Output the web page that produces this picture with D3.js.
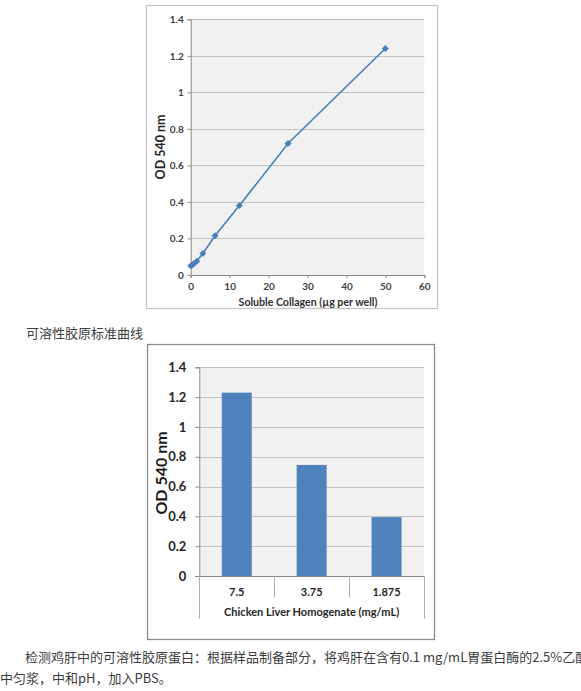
<!DOCTYPE html>
<html>
<head>
<meta charset="utf-8">
<script src="https://cdn.jsdelivr.net/npm/d3@7"></script>
<style>
  body { margin: 0; background: #fff; }
  svg { display: block; }
</style>
</head>
<body>
<script>
"use strict";
// standard curve (upper chart)
var collagenUg = [0, 0.39, 0.78, 1.56, 3.125, 6.25, 12.5, 25, 50];
var collagenOd = [0.05, 0.055, 0.062, 0.075, 0.118, 0.215, 0.38, 0.72, 1.24];
var collagenTicks = [0, 10, 20, 30, 40, 50, 60];
// chicken liver samples (lower chart)
var liverConc = ["7.5", "3.75", "1.875"];
var liverOd = [1.23, 0.745, 0.395];
var odTicks = [0, 0.2, 0.4, 0.6, 0.8, 1, 1.2, 1.4];

var caption = "可溶性胶原标准曲线";
var paraLine1 = "检测鸡肝中的可溶性胶原蛋白：根据样品制备部分，将鸡肝在含有0.1 mg/mL胃蛋白酶的2.5%乙酸";
var paraLine2 = "中匀浆，中和pH，加入PBS。";

var W = 581, H = 691;
var chartFont = "Lato, 'Liberation Sans', sans-serif";
var cjkFont = "'Noto Sans CJK SC', sans-serif";
var fmt = function (d) { return String(Math.round(d * 10) / 10); };

var svg = d3.select("body").append("svg")
  .attr("width", W)
  .attr("height", H);

// ---------- upper chart ----------
(function () {
  var g = svg.append("g");
  var x = d3.scaleLinear().domain([0, 60]).range([190.7, 424.3]);
  var y = d3.scaleLinear().domain([0, 1.4]).range([275, 19.3]);

  g.append("rect")
    .attr("x", 146.5).attr("y", 5.5)
    .attr("width", 291).attr("height", 303)
    .attr("fill", "#fff")
    .attr("stroke", "#c4c4c4")
    .attr("stroke-width", 1.2);

  g.append("rect")
    .attr("x", x(0)).attr("y", y(1.4))
    .attr("width", x(60) - x(0)).attr("height", y(0) - y(1.4))
    .attr("fill", "#f1f1f1");

  g.selectAll("line.grid").data(odTicks.slice(1)).join("line")
    .attr("class", "grid")
    .attr("x1", x(0)).attr("x2", x(60))
    .attr("y1", function (d) { return Math.round(y(d)) + 0.5; })
    .attr("y2", function (d) { return Math.round(y(d)) + 0.5; })
    .attr("stroke", "#c3c3c3");

  var ya = g.append("g")
    .attr("transform", "translate(" + x(0) + ",0)")
    .call(d3.axisLeft(y).tickValues(odTicks).tickFormat(fmt).tickSize(3).tickPadding(4));
  var xa = g.append("g")
    .attr("transform", "translate(0," + y(0) + ")")
    .call(d3.axisBottom(x).tickValues(collagenTicks).tickSize(3).tickPadding(5));
  [ya, xa].forEach(function (a) {
    a.select(".domain").attr("stroke", "#8a8a8a");
    a.selectAll(".tick line").attr("stroke", "#8a8a8a");
    a.selectAll(".tick text")
      .attr("fill", "#404040")
      .style("font-family", chartFont)
      .style("font-size", "10px")
      .style("font-weight", "bold");
  });

  var pts = collagenUg.map(function (d, i) { return [d, collagenOd[i]]; });
  g.append("path")
    .datum(pts)
    .attr("fill", "none")
    .attr("stroke", "#4a7ebb")
    .attr("stroke-width", 1.6)
    .attr("d", d3.line()
      .x(function (d) { return x(d[0]); })
      .y(function (d) { return y(d[1]); }));

  // diamond markers: squares turned 45 degrees
  g.selectAll("path.mark").data(pts).join("path")
    .attr("class", "mark")
    .attr("d", d3.symbol().type(d3.symbolSquare).size(24))
    .attr("transform", function (d) { return "translate(" + x(d[0]) + "," + y(d[1]) + ") rotate(45)"; })
    .attr("fill", "#4a7ebb");

  g.append("text")
    .attr("transform", "translate(161,147) rotate(-90)")
    .attr("text-anchor", "middle")
    .attr("dy", "0.35em")
    .attr("fill", "#222")
    .style("font-family", chartFont)
    .style("font-size", "12.5px")
    .style("font-weight", "bold")
    .text("OD 540 nm");

  g.append("text")
    .attr("x", 308).attr("y", 302)
    .attr("text-anchor", "middle")
    .attr("dy", "0.35em")
    .attr("fill", "#303030")
    .style("font-family", chartFont)
    .style("font-size", "10.6px")
    .style("font-weight", "bold")
    .text("Soluble Collagen (µg per well)");
}());

// ---------- caption ----------
svg.append("text")
  .attr("x", 26).attr("y", 333)
  .attr("dy", "0.35em")
  .attr("fill", "#3c3c3c")
  .style("font-family", cjkFont)
  .style("font-size", "13px")
  .text(caption);

// ---------- lower chart ----------
(function () {
  var g = svg.append("g");
  var x = d3.scaleBand().domain(liverConc).range([199.3, 424]).paddingInner(0.6).paddingOuter(0.3);
  var y = d3.scaleLinear().domain([0, 1.4]).range([576, 367.3]);
  var x0 = x.range()[0], x1 = x.range()[1], step = x.step();

  g.append("rect")
    .attr("x", 147.5).attr("y", 344.5)
    .attr("width", 287).attr("height", 295)
    .attr("fill", "#fff")
    .attr("stroke", "#8c8c8c")
    .attr("stroke-width", 1.3);

  g.append("rect")
    .attr("x", x0).attr("y", y(1.4))
    .attr("width", x1 - x0).attr("height", y(0) - y(1.4))
    .attr("fill", "#f1f1f1");

  g.selectAll("line.grid").data(odTicks.slice(1)).join("line")
    .attr("class", "grid")
    .attr("x1", x0).attr("x2", x1)
    .attr("y1", function (d) { return Math.round(y(d)) + 0.5; })
    .attr("y2", function (d) { return Math.round(y(d)) + 0.5; })
    .attr("stroke", "#c3c3c3");

  g.selectAll("rect.bar").data(liverOd).join("rect")
    .attr("class", "bar")
    .attr("x", function (d, i) { return x(liverConc[i]); })
    .attr("y", function (d) { return y(d); })
    .attr("width", x.bandwidth())
    .attr("height", function (d) { return y(0) - y(d); })
    .attr("fill", "#4f81bd");

  var ya = g.append("g")
    .attr("transform", "translate(" + x0 + ",0)")
    .call(d3.axisLeft(y).tickValues(odTicks).tickFormat(fmt).tickSize(4).tickPadding(9));
  ya.select(".domain").attr("stroke", "#8a8a8a");
  ya.selectAll(".tick line").attr("stroke", "#8a8a8a");
  ya.selectAll(".tick text")
    .attr("fill", "#262626")
    .style("font-family", chartFont)
    .style("font-size", "13px")
    .style("font-weight", "bold");

  // category axis with two levels
  g.append("line")
    .attr("x1", x0).attr("x2", x1)
    .attr("y1", y(0) + 0.5).attr("y2", y(0) + 0.5)
    .attr("stroke", "#8a8a8a");
  d3.range(liverConc.length + 1).forEach(function (i) {
    var edge = i === 0 || i === liverConc.length;
    var xx = Math.round(x0 + i * step) + 0.5;
    g.append("line")
      .attr("x1", xx).attr("x2", xx)
      .attr("y1", y(0)).attr("y2", edge ? 619 : 597)
      .attr("stroke", "#b0b0b0");
  });
  g.selectAll("text.cat").data(liverConc).join("text")
    .attr("class", "cat")
    .attr("x", function (d) { return x(d) + x.bandwidth() / 2; })
    .attr("y", 592)
    .attr("dy", "0.35em")
    .attr("text-anchor", "middle")
    .attr("fill", "#262626")
    .style("font-family", chartFont)
    .style("font-size", "11px")
    .style("font-weight", "bold")
    .text(function (d) { return d; });

  g.append("text")
    .attr("x", (x0 + x1) / 2).attr("y", 612)
    .attr("dy", "0.35em")
    .attr("text-anchor", "middle")
    .attr("fill", "#262626")
    .style("font-family", chartFont)
    .style("font-size", "11px")
    .style("font-weight", "bold")
    .text("Chicken Liver Homogenate (mg/mL)");

  g.append("text")
    .attr("transform", "translate(161,473) rotate(-90)")
    .attr("text-anchor", "middle")
    .attr("dy", "0.35em")
    .attr("fill", "#1a1a1a")
    .style("font-family", chartFont)
    .style("font-size", "16px")
    .style("font-weight", "bold")
    .text("OD 540 nm");
}());

// ---------- paragraph (first line runs past the right edge, as in the source page) ----------
svg.append("text")
  .attr("x", 25).attr("y", 657)
  .attr("dy", "0.35em")
  .attr("fill", "#3c3c3c")
  .style("font-family", cjkFont)
  .style("font-size", "13px")
  .text(paraLine1);
svg.append("text")
  .attr("x", 0).attr("y", 678)
  .attr("dy", "0.35em")
  .attr("fill", "#3c3c3c")
  .style("font-family", cjkFont)
  .style("font-size", "13px")
  .text(paraLine2);
</script>
</body>
</html>
